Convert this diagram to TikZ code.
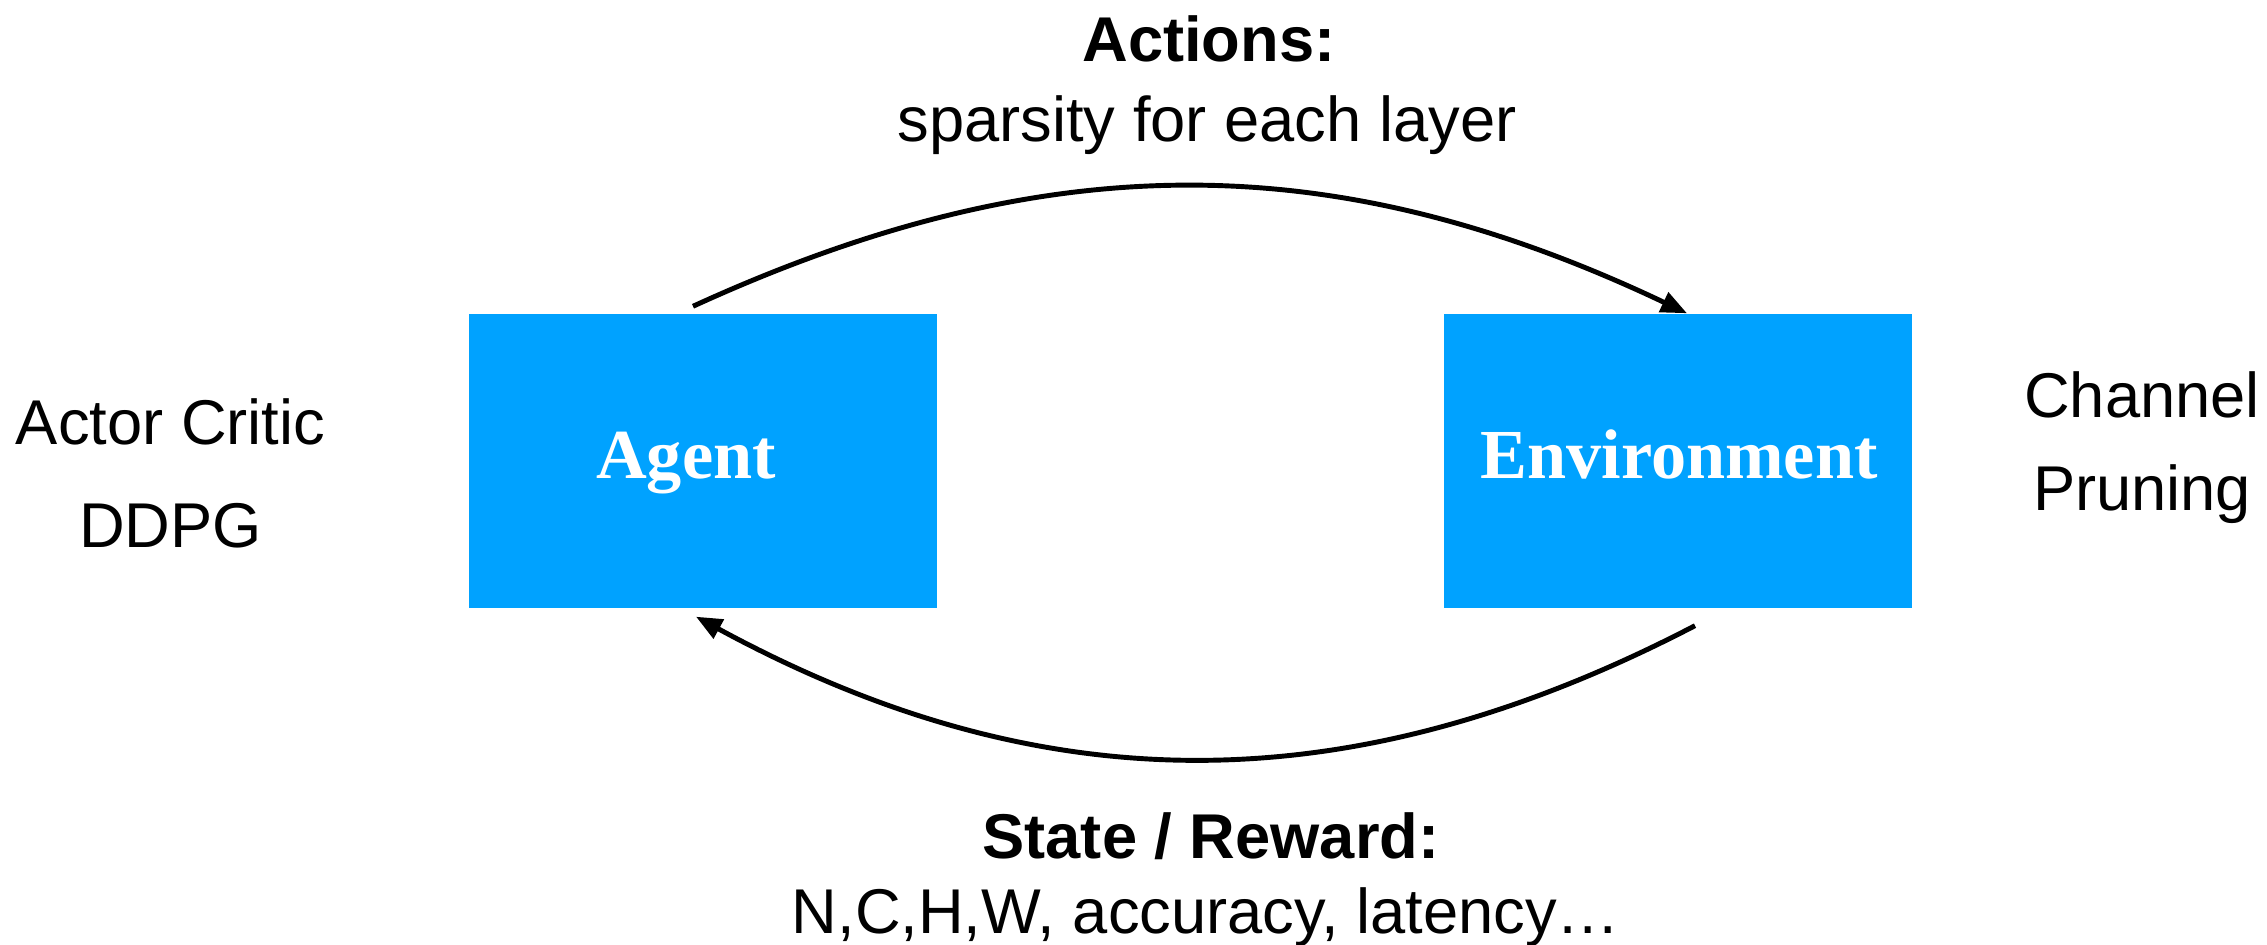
\documentclass[tikz,border=0pt]{standalone}
\usepackage{fontspec}
\setmainfont{Liberation Serif}
\setsansfont{Liberation Sans}
\usetikzlibrary{arrows.meta}
\definecolor{boxblue}{RGB}{0,162,255}
\tikzset{
  block/.style={fill=boxblue, draw=none, minimum width=4.68cm, minimum height=2.94cm, inner sep=0pt},
  blocktext/.style={font=\rmfamily\bfseries\fontsize{20}{24}\selectfont, text=white, anchor=base, inner sep=0pt},
  label/.style={font=\sffamily\fontsize{18}{22}\selectfont, anchor=base, inner sep=0pt},
  boldlabel/.style={label, font=\sffamily\bfseries\fontsize{18}{22}\selectfont},
  flow/.style={line width=1.4pt, -{Triangle[length=0.26cm, width=0.21cm]}}
}
\begin{document}
\begin{tikzpicture}
\useasboundingbox (0,0) rectangle (22.67,9.45);

% the two blocks
\node[block] (agent) at (7.03,4.84) {};
\node[block] (env) at (16.78,4.84) {};
\node[blocktext] (agenttext) at (6.86,4.66) {Agent};
\node[blocktext] (envtext) at (16.79,4.66) {Environment};

% side labels
\node[label] (ac) at (1.705,5.00) {Actor Critic};
\node[label] (ddpg) at (1.705,3.97) {DDPG};
\node[label] (chan) at (21.42,5.27) {Channel};
\node[label] (prun) at (21.42,4.34) {Pruning};

% arrow labels
\node[boldlabel] (acts) at (12.09,8.83) {Actions:};
\node[label] (sparsity) at (12.07,8.03) {sparsity for each layer};
\node[boldlabel] (state) at (12.11,0.86) {State / Reward:};
\node[label] (nchw) at (12.06,0.11) {N,C,H,W, accuracy, latency…};

% loop arrows
\draw[flow] ([xshift=-0.10cm,yshift=0.07cm]agent.north) to[bend left=25] ([xshift=0.09cm]env.north);
\draw[flow] ([xshift=0.17cm,yshift=-0.17cm]env.south) to[bend left=28] ([xshift=-0.07cm,yshift=-0.08cm]agent.south);
\end{tikzpicture}
\end{document}
